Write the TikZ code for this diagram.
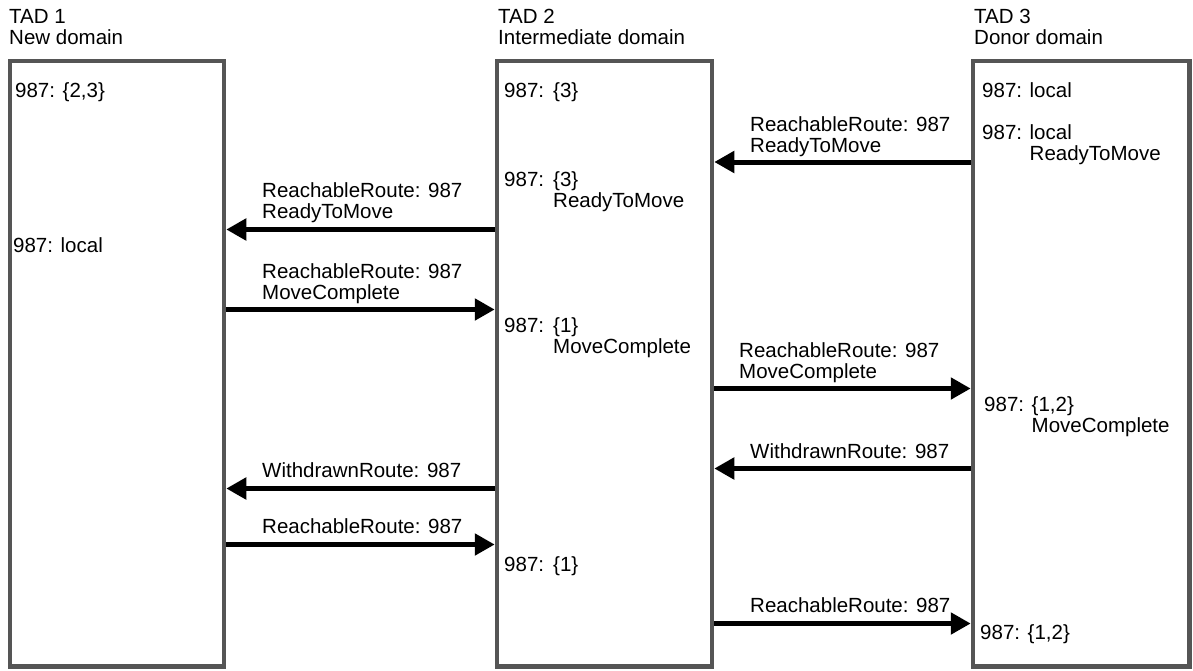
\documentclass[tikz,border=0pt]{standalone}
\usepackage{fontspec}
\setmainfont{Liberation Sans}
\usetikzlibrary{arrows.meta}
\definecolor{boxgray}{RGB}{85,85,85}
% two left-aligned lines, baseline on the first one
\newcommand{\twolines}[2]{\begin{tabular}[t]{@{}l@{}}#1\\#2\end{tabular}}
\newcommand{\tadkey}[1]{\makebox[49pt][l]{#1}}

\begin{document}
\begin{tikzpicture}[x=1pt,y=-1pt,
  font=\fontsize{20.5}{20.5}\selectfont,
  domainbox/.style={draw=boxgray, line width=4.5pt, fill=white,
    minimum width=#1, minimum height=605.5pt, inner sep=0pt},
  txt/.style={anchor=base west, inner sep=0pt},
  msg/.style={line width=5pt, -{Triangle[length=20pt,width=21pt]}},
]
\useasboundingbox (0,0) rectangle (1193,670);
\fill[white] (0,0) rectangle (1193,670);

% the three domains
\node[domainbox=214pt]   (d1) at (117,363.5)    {};
\node[domainbox=215pt]   (d2) at (604.5,363.5)  {};
\node[domainbox=216.5pt] (d3) at (1081.25,363.5) {};

% headings
\node[txt] (h1) at (9,23)   {\twolines{TAD 1}{New domain}};
\node[txt] (h2) at (498,23) {\twolines{TAD 2}{Intermediate domain}};
\node[txt] (h3) at (974,23) {\twolines{TAD 3}{Donor domain}};

% route state in TAD 1
\node[txt] (s1a) at (15,97)  {987: \{2,3\}};
\node[txt] (s1b) at (13,252) {987: local};

% route state in TAD 2
\node[txt] (s2a) at (504,97)  {\tadkey{987:}\{3\}};
\node[txt] (s2b) at (504,186) {\twolines{\tadkey{987:}\{3\}}{\hspace*{49pt}ReadyToMove}};
\node[txt] (s2c) at (504,332) {\twolines{\tadkey{987:}\{1\}}{\hspace*{49pt}MoveComplete}};
\node[txt] (s2d) at (504,571) {\tadkey{987:}\{1\}};

% route state in TAD 3
\node[txt] (s3a) at (982,97)  {987: local};
\node[txt] (s3b) at (982,139) {\twolines{987: local}{\phantom{987: }ReadyToMove}};
\node[txt] (s3c) at (984,411) {\twolines{987: \{1,2\}}{\phantom{987: }MoveComplete}};
\node[txt] (s3d) at (980,639) {987: \{1,2\}};

% message labels
\node[txt] (m1) at (750,131) {\twolines{ReachableRoute: 987}{ReadyToMove}};
\node[txt] (m2) at (262,197) {\twolines{ReachableRoute: 987}{ReadyToMove}};
\node[txt] (m3) at (262,278) {\twolines{ReachableRoute: 987}{MoveComplete}};
\node[txt] (m4) at (739,357) {\twolines{ReachableRoute: 987}{MoveComplete}};
\node[txt] (m5) at (750,458) {WithdrawnRoute: 987};
\node[txt] (m6) at (262,477) {WithdrawnRoute: 987};
\node[txt] (m7) at (262,533) {ReachableRoute: 987};
\node[txt] (m8) at (750,612) {ReachableRoute: 987};

% message rows
\coordinate (y1) at (0,162);
\coordinate (y2) at (0,229.5);
\coordinate (y3) at (0,309.5);
\coordinate (y4) at (0,388.5);
\coordinate (y5) at (0,468.5);
\coordinate (y6) at (0,488.5);
\coordinate (y7) at (0,544.5);
\coordinate (y8) at (0,623.5);

% messages
\draw[msg] (d3.west |- y1) -- (d2.east |- y1);
\draw[msg] (d2.west |- y2) -- (d1.east |- y2);
\draw[msg] (d1.east |- y3) -- (d2.west |- y3);
\draw[msg] (d2.east |- y4) -- (d3.west |- y4);
\draw[msg] (d3.west |- y5) -- (d2.east |- y5);
\draw[msg] (d2.west |- y6) -- (d1.east |- y6);
\draw[msg] (d1.east |- y7) -- (d2.west |- y7);
\draw[msg] (d2.east |- y8) -- (d3.west |- y8);
\end{tikzpicture}
\end{document}
